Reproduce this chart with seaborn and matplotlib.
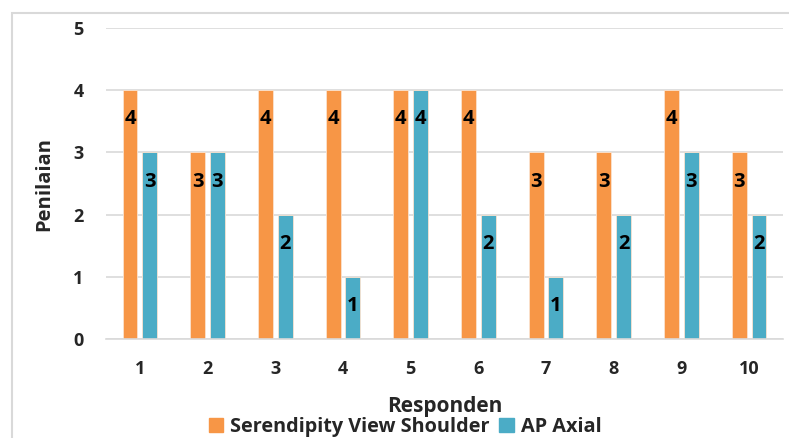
import matplotlib
matplotlib.use("Agg")
import matplotlib.pyplot as plt
import seaborn as sns
import pandas as pd
from matplotlib.patches import Rectangle

respondents = ["1", "2", "3", "4", "5", "6", "7", "8", "9", "10"]
serendipity = [4, 3, 4, 4, 4, 4, 3, 3, 4, 3]
ap_axial = [3, 3, 2, 1, 4, 2, 1, 2, 3, 2]
series_names = ["Serendipity View Shoulder", "AP Axial"]
y_ticks = [0, 1, 2, 3, 4, 5]

df = pd.DataFrame({
    "Responden": respondents * 2,
    "Penilaian": serendipity + ap_axial,
    "Series": [series_names[0]] * len(respondents) + [series_names[1]] * len(respondents),
})

sns.set_theme(style="white")
plt.rcParams["font.family"] = ["Open Sans", "DejaVu Sans"]
plt.rcParams["font.weight"] = "bold"

fig = plt.figure(figsize=(7.89, 4.38), dpi=100)
ax = fig.add_axes([0.1343, 0.226, 0.8581, 0.710])

palette = {series_names[0]: "#F79646", series_names[1]: "#4BACC6"}
sns.barplot(data=df, x="Responden", y="Penilaian", hue="Series",
            order=respondents, hue_order=series_names, palette=palette,
            width=0.58, gap=0.24, saturation=1, edgecolor="#FBE3CF",
            linewidth=0.6, legend=True, ax=ax)

# value labels just inside the top of each bar
for container in ax.containers:
    for bar in container:
        h = bar.get_height()
        ax.annotate(f"{h:g}", (bar.get_x() + bar.get_width() / 2, h),
                    xytext=(0, -21), textcoords="offset points",
                    ha="center", va="center", fontsize=14.5,
                    fontweight="bold", color="black")

ax.set_ylim(0, 5)
ax.set_xlim(-0.5, 9.5)
ax.set_yticks(y_ticks)
ax.yaxis.grid(True, color="#D9D9D9", linewidth=1.2)
ax.set_axisbelow(True)
for side in ["top", "right", "left"]:
    ax.spines[side].set_visible(False)
ax.spines["bottom"].set_color("#D9D9D9")
ax.spines["bottom"].set_linewidth(1.2)
ax.tick_params(axis="both", length=0, labelsize=13)
ax.tick_params(axis="y", pad=16)
ax.tick_params(axis="x", pad=15)
for lbl in ax.get_xticklabels() + ax.get_yticklabels():
    lbl.set_fontweight("bold")

ax.set_xlabel("Responden", fontsize=15, fontweight="bold", labelpad=13)
ax.set_ylabel("Penilaian", fontsize=14.5, fontweight="bold")
ax.yaxis.set_label_coords(-0.077, 0.5)

ax.legend_.remove()
handles = [Rectangle((0, 0), 1, 1, color=palette[n]) for n in series_names]
fig.legend(handles, series_names, loc="center", bbox_to_anchor=(405 / 789, 1 - 427 / 438),
           ncol=2, frameon=False, handlelength=0.75, handleheight=0.75,
           handletextpad=0.35, columnspacing=0.45, borderpad=0,
           prop={"family": ["Open Sans", "DejaVu Sans"], "weight": "bold", "size": 14.3})

# outer chart frame
fig.patches.append(Rectangle((12 / 789, -0.1), 1.2, 1 - 13 / 438 + 0.1,
                             transform=fig.transFigure, fill=False,
                             edgecolor="#D9D9D9", linewidth=1.5))

fig.savefig("out.png", dpi=100)
